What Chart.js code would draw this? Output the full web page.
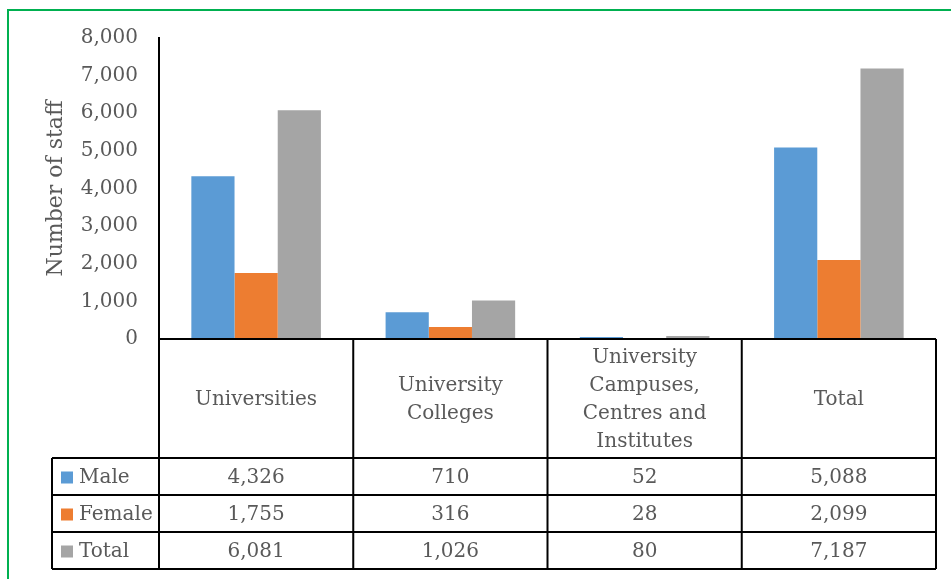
<!DOCTYPE html>
<html>
<head>
<meta charset="utf-8">
<script src="https://cdn.jsdelivr.net/npm/chart.js@4/dist/chart.umd.min.js"></script>
<style>
  html, body { margin: 0; padding: 0; background: #fff; }
  #wrap { width: 951px; height: 579px; position: relative; }
</style>
</head>
<body>
<div id="wrap"><canvas id="chart" width="951" height="579"></canvas></div>
<script>
const categories = [
  ["Universities"],
  ["University", "Colleges"],
  ["University", "Campuses,", "Centres and", "Institutes"],
  ["Total"]
]
const seriesNames = ["Male", "Female", "Total"]
const male = [4326, 710, 52, 5088]
const female = [1755, 316, 28, 2099]
const total = [6081, 1026, 80, 7187]
const yTicks = [0, 1000, 2000, 3000, 4000, 5000, 6000, 7000, 8000]

const colors = ["#5B9BD5", "#ED7D31", "#A5A5A5"]
const textColor = "#595959"
const fontFamily = "'DejaVu Serif', serif"

const fmt = (v) => v.toLocaleString("en-US")

// green frame round the chart
const framePlugin = {
  id: "frame",
  beforeDraw(chart) {
    const ctx = chart.ctx
    ctx.save()
    ctx.strokeStyle = "#00B050"
    ctx.lineWidth = 2
    ctx.beginPath()
    ctx.moveTo(8, 579)
    ctx.lineTo(8, 10)
    ctx.lineTo(951, 10)
    ctx.stroke()
    ctx.restore()
  }
}

// data table under the plot, columns follow the x scale
const tablePlugin = {
  id: "dataTable",
  afterDraw(chart) {
    const ctx = chart.ctx
    const x = chart.scales.x
    const area = chart.chartArea
    const n = categories.length
    const half = (x.getPixelForValue(1) - x.getPixelForValue(0)) / 2
    const edges = []
    for (let i = 0; i < n; i++) edges.push(x.getPixelForValue(i) - half)
    edges.push(x.getPixelForValue(n - 1) + half)

    const headTop = area.bottom
    const headBottom = headTop + 119
    const rowH = 37
    const legendLeft = 52
    const rows = [male, female, total]
    const tableBottom = headBottom + rowH * rows.length

    ctx.save()
    ctx.strokeStyle = "#000"
    ctx.lineWidth = 2
    ctx.beginPath()
    // header cells
    ctx.moveTo(edges[0], headTop)
    ctx.lineTo(edges[n], headTop)
    edges.forEach((e) => {
      ctx.moveTo(e, headTop)
      ctx.lineTo(e, tableBottom)
    })
    // data rows
    for (let r = 0; r <= rows.length; r++) {
      const y = headBottom + r * rowH
      ctx.moveTo(legendLeft, y)
      ctx.lineTo(edges[n], y)
    }
    ctx.moveTo(legendLeft, headBottom)
    ctx.lineTo(legendLeft, tableBottom)
    ctx.stroke()

    ctx.fillStyle = textColor
    ctx.font = "20px " + fontFamily
    ctx.textAlign = "center"
    ctx.textBaseline = "middle"
    const lineH = 28
    categories.forEach((lines, i) => {
      const cx = x.getPixelForValue(i)
      const cy = (headTop + headBottom) / 2 + 1
      const start = cy - (lines.length - 1) * lineH / 2
      lines.forEach((t, k) => ctx.fillText(t, cx, start + k * lineH))
    })

    rows.forEach((vals, r) => {
      const cy = headBottom + r * rowH + rowH / 2 + 1
      ctx.textAlign = "center"
      ctx.fillStyle = textColor
      vals.forEach((v, i) => ctx.fillText(fmt(v), x.getPixelForValue(i), cy))
      ctx.fillStyle = colors[r]
      ctx.fillRect(legendLeft + 9, cy - 6, 12, 12)
      ctx.fillStyle = textColor
      ctx.textAlign = "left"
      ctx.fillText(seriesNames[r], legendLeft + 27, cy)
    })
    ctx.restore()
  }
}

new Chart(document.getElementById("chart"), {
  type: "bar",
  data: {
    labels: categories.map((c) => c.join(" ")),
    datasets: [male, female, total].map((d, i) => ({
      label: seriesNames[i],
      data: d,
      backgroundColor: colors[i],
      borderWidth: 0,
      categoryPercentage: 0.667,
      barPercentage: 1
    }))
  },
  options: {
    responsive: false,
    animation: false,
    layout: { padding: { left: 0, top: 38, right: 15, bottom: 240 } },
    plugins: {
      legend: { display: false },
      tooltip: { enabled: false }
    },
    scales: {
      x: { display: false },
      y: {
        min: 0,
        max: 8000,
        afterFit(scale) { scale.width = 159 },
        afterBuildTicks(scale) { scale.ticks = yTicks.map((v) => ({ value: v })) },
        grid: { display: true, drawOnChartArea: false, drawTicks: false },
        border: { display: true, color: "#000", width: 2 },
        ticks: {
          color: textColor,
          padding: 21,
          font: { family: fontFamily, size: 20 },
          callback: (v) => fmt(v)
        },
        title: {
          display: true,
          text: "Number of staff",
          color: textColor,
          font: { family: fontFamily, size: 22 },
          padding: { top: 43 }
        }
      }
    }
  },
  plugins: [framePlugin, tablePlugin]
})
</script>
</body>
</html>
